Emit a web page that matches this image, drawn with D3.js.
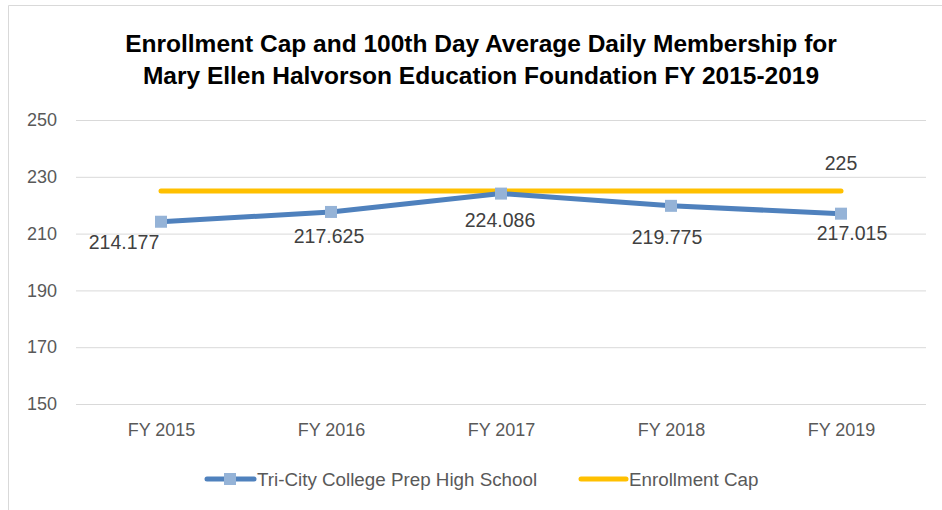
<!DOCTYPE html>
<meta charset="utf-8">
<style>
body { margin: 0; background: #fff; }
svg { display: block; font-family: "Liberation Sans", Arial, sans-serif; }
.grid line { stroke: #d9d9d9; stroke-width: 1px; }
.axis text { fill: #595959; }
.label { fill: #404040; }
</style>
<svg width="942" height="510"></svg>
<script src="https://d3js.org/d3.v7.min.js"></script>
<script>

const years = ["FY 2015", "FY 2016", "FY 2017", "FY 2018", "FY 2019"];
const adm = [214.177, 217.625, 224.086, 219.775, 217.015];
const cap = [225, 225, 225, 225, 225];
const yTicks = [150, 170, 190, 210, 230, 250];
const titleLines = [
  "Enrollment Cap and 100th Day Average Daily Membership for",
  "Mary Ellen Halvorson Education Foundation FY 2015-2019"
];
const seriesNames = ["Tri-City College Prep High School", "Enrollment Cap"];

// label nudges (dx, dy from the point), as placed in the original
const admLabelShift = [[-37, 20], [-2, 24], [-1, 27], [-4, 31], [11, 19]];

const svg = d3.select("svg"),
    margin = {top: 120, right: 16, bottom: 105, left: 76},
    width = +svg.attr("width") - margin.left - margin.right,
    height = 404 - margin.top;

// chart frame (top and left edges visible)
svg.append("path")
    .attr("d", "M8.5,510 V5.5 H942")
    .attr("fill", "none")
    .attr("stroke", "#d9d9d9");

const g = svg.append("g").attr("transform", "translate(" + margin.left + "," + margin.top + ")");

const xScale = d3.scalePoint().domain(years).range([0, width]).padding(0.5);
const yScale = d3.scaleLinear().domain([150, 250]).range([height, 0]);

g.append("g").attr("class", "grid")
  .selectAll("line").data(yTicks).join("line")
    .attr("x1", 0).attr("x2", width)
    .attr("y1", d => yScale(d) + 0.5).attr("y2", d => yScale(d) + 0.5);

const yAxis = g.append("g").attr("class", "axis")
    .call(d3.axisLeft(yScale).tickValues(yTicks).tickSize(0).tickPadding(19));
yAxis.select(".domain").remove();
yAxis.selectAll("text").style("font-size", "18px");

const xAxis = g.append("g").attr("class", "axis")
    .attr("transform", "translate(0," + height + ")")
    .call(d3.axisBottom(xScale).tickSize(0).tickPadding(19));
xAxis.select(".domain").remove();
xAxis.selectAll("text").style("font-size", "18px");

const line = d3.line()
    .x((d, i) => xScale(years[i]))
    .y(d => yScale(d));

g.append("path")
    .datum(cap)
    .attr("fill", "none")
    .attr("stroke", "#ffc000")
    .attr("stroke-width", 5)
    .attr("stroke-linecap", "round")
    .attr("d", line);

g.append("path")
    .datum(adm)
    .attr("fill", "none")
    .attr("stroke", "#4f81bd")
    .attr("stroke-width", 5)
    .attr("stroke-linejoin", "round")
    .attr("d", line);

g.selectAll(".pt").data(adm).join("rect")
    .attr("class", "pt")
    .attr("x", (d, i) => xScale(years[i]) - 6)
    .attr("y", d => yScale(d) - 6)
    .attr("width", 12).attr("height", 12)
    .attr("fill", "#95b3d7");

g.selectAll(".admlab").data(adm).join("text")
    .attr("class", "label")
    .attr("x", (d, i) => xScale(years[i]) + admLabelShift[i][0])
    .attr("y", (d, i) => yScale(d) + admLabelShift[i][1])
    .attr("dy", "0.35em")
    .attr("text-anchor", "middle")
    .style("font-size", "19.5px")
    .text(d => d.toFixed(3));

// cap value shown at the last point only
const last = cap.length - 1;
g.append("text")
    .attr("class", "label")
    .attr("x", xScale(years[last]))
    .attr("y", yScale(cap[last]) - 28)
    .attr("dy", "0.35em")
    .attr("text-anchor", "middle")
    .style("font-size", "19.5px")
    .text(cap[last]);

// title
svg.append("text")
    .attr("x", 481)
    .attr("y", 52)
    .attr("text-anchor", "middle")
    .style("font-size", "24.5px")
    .style("font-weight", "bold")
    .attr("fill", "#000")
  .selectAll("tspan").data(titleLines).join("tspan")
    .attr("x", 481)
    .attr("dy", (d, i) => i ? 32 : 0)
    .text(d => d);

// legend
const legend = svg.append("g").attr("transform", "translate(0,479)");
legend.append("line")
    .attr("x1", 207).attr("x2", 254).attr("y1", 0).attr("y2", 0)
    .attr("stroke", "#4f81bd").attr("stroke-width", 5).attr("stroke-linecap", "round");
legend.append("rect")
    .attr("x", 224).attr("y", -6).attr("width", 12).attr("height", 12)
    .attr("fill", "#95b3d7");
legend.append("line")
    .attr("x1", 581).attr("x2", 626).attr("y1", 0).attr("y2", 0)
    .attr("stroke", "#ffc000").attr("stroke-width", 5).attr("stroke-linecap", "round");
legend.selectAll("text").data(seriesNames).join("text")
    .attr("x", (d, i) => i ? 629 : 257)
    .attr("dy", "0.35em")
    .attr("fill", "#595959")
    .style("font-size", "18.8px")
    .text(d => d);

</script>
